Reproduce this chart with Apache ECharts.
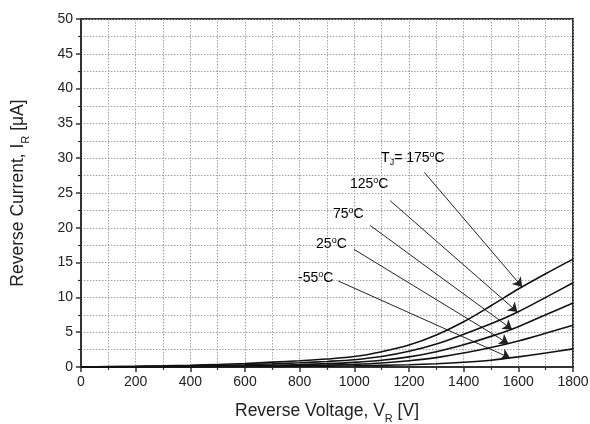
<!DOCTYPE html>
<html><head><meta charset="utf-8">
<script src="https://cdn.jsdelivr.net/npm/echarts@6/dist/echarts.min.js"></script>
<style>html,body{margin:0;padding:0;background:#fff}#c{width:590px;height:424px}</style>
</head><body><div id="c"></div>
<script>
// ---- data ----
const voltage    = [0, 100, 200, 300, 400, 500, 600, 700, 800, 900, 1000, 1100, 1200, 1300, 1400, 1500, 1600, 1700, 1800];
const current175 = [0.02, 0.06, 0.1, 0.16, 0.25, 0.37, 0.5, 0.7, 0.9, 1.15, 1.5, 2.2, 3.15, 4.6, 6.5, 8.8, 11.2, 13.4, 15.5];
const current125 = [0.01, 0.04, 0.07, 0.11, 0.16, 0.24, 0.33, 0.45, 0.6, 0.8, 1.05, 1.5, 2.25, 3.3, 4.7, 6.2, 7.95, 10.0, 12.1];
const current75  = [0, 0.02, 0.04, 0.06, 0.09, 0.13, 0.18, 0.25, 0.35, 0.48, 0.67, 0.96, 1.45, 2.2, 3.2, 4.4, 5.8, 7.5, 9.2];
const current25  = [0, 0.01, 0.02, 0.03, 0.05, 0.07, 0.1, 0.14, 0.19, 0.27, 0.38, 0.57, 0.9, 1.35, 2.0, 2.8, 3.75, 4.85, 6.0];
const currentM55 = [0, 0.005, 0.01, 0.015, 0.02, 0.03, 0.045, 0.06, 0.08, 0.12, 0.17, 0.24, 0.33, 0.47, 0.68, 0.98, 1.45, 2.0, 2.6];
const xTicks = [0, 200, 400, 600, 800, 1000, 1200, 1400, 1600, 1800];
const yTicks = [0, 5, 10, 15, 20, 25, 30, 35, 40, 45, 50];
const tempLabels = ['175', '125', '75', '25', '-55'];

// annotation anchors in data units: [labelV, labelI, arrowStartV, arrowStartI, arrowTipV, arrowTipI]
const annot = [
  [1098, 30.0, 1256, 27.97, 1614, 11.5],
  [984, 26.3, 1131, 23.9, 1597, 7.9],
  [922, 22.0, 1057, 20.36, 1577, 5.4],
  [860, 17.7, 999, 16.9, 1564, 3.35],
  [794, 12.8, 941, 12.36, 1570, 1.3]
];

const FONT = '"Liberation Sans", Arial, sans-serif';
const INK = '#222';
const seriesData = [current175, current125, current75, current25, currentM55];

const chart = echarts.init(document.getElementById('c'), null, {renderer: 'canvas'});

const series = seriesData.map((arr, k) => ({
  type: 'line',
  data: voltage.map((v, i) => [v, arr[i]]),
  showSymbol: false,
  smooth: 0.3,
  lineStyle: {color: '#111', width: 1.6},
  z: 5,
  silent: true,
  markLine: {
    silent: true,
    symbol: ['none', 'arrow'],
    symbolSize: 9,
    itemStyle: {color: '#222'},
    lineStyle: {color: '#222', width: 1, type: 'solid'},
    label: {show: false},
    emphasis: {disabled: true},
    data: [[{coord: [annot[k][2], annot[k][3]]}, {coord: [annot[k][4], annot[k][5]]}]]
  }
}));

const dotted = {show: true, lineStyle: {color: '#a0a0a0', type: [1.5, 1.5], width: 1}};
const nameRich = {
  n: {fontSize: 17.5, fontFamily: FONT, color: INK, lineHeight: 22},
  sub: {fontSize: 11, fontFamily: FONT, color: INK, lineHeight: 22, verticalAlign: 'bottom', padding: [0, 0, -2, 0]}
};

chart.setOption({
  animation: false,
  backgroundColor: '#fff',
  grid: {left: 81, right: 17, top: 19, bottom: 57, outerBoundsMode: 'none', containLabel: false,
    show: true, borderColor: '#333', borderWidth: 2, backgroundColor: 'transparent'},
  xAxis: {
    type: 'value', min: 0, max: 1800, interval: 200,
    axisLine: {show: true, lineStyle: {color: '#333', width: 2}},
    axisTick: {show: true, length: 5, lineStyle: {color: '#333', width: 1.5}},
    minorTick: {show: true, splitNumber: 2, length: 3, lineStyle: {color: '#333', width: 1.2}},
    splitLine: dotted,
    minorSplitLine: dotted,
    axisLabel: {color: INK, fontSize: 14, fontFamily: FONT, margin: 8,
      formatter: v => xTicks.includes(v) ? String(v) : ''},
    name: '{n|Reverse Voltage, V}{sub|R}{n| [V]}',
    nameLocation: 'middle', nameGap: 33,
    nameTextStyle: {rich: nameRich}
  },
  yAxis: {
    type: 'value', min: 0, max: 50, interval: 5,
    axisLine: {show: true, lineStyle: {color: '#333', width: 2}},
    axisTick: {show: true, length: 5, lineStyle: {color: '#333', width: 1.5}},
    minorTick: {show: true, splitNumber: 2, length: 3, lineStyle: {color: '#333', width: 1.2}},
    splitLine: dotted,
    minorSplitLine: dotted,
    axisLabel: {color: INK, fontSize: 14, fontFamily: FONT, margin: 8,
      formatter: v => yTicks.includes(v) ? String(v) : ''},
    name: '{n|Reverse Current, I}{sub|R}{n| [μA]}',
    nameLocation: 'middle', nameGap: 52, nameRotate: 90,
    nameTextStyle: {rich: nameRich}
  },
  series: series
});

// temperature labels, positioned through the axes' scales
const rich = {
  n: {fontSize: 14, fontFamily: FONT, color: INK, lineHeight: 16},
  sup: {fontSize: 9, fontFamily: FONT, color: INK, lineHeight: 16, verticalAlign: 'top', padding: [0, 0, 4, 0]},
  sub: {fontSize: 9, fontFamily: FONT, color: INK, lineHeight: 16, verticalAlign: 'bottom', padding: [0, 0, -1, 0]}
};
const graphics = tempLabels.map((t, k) => {
  const p = chart.convertToPixel({gridIndex: 0}, [annot[k][0], annot[k][1]]);
  const txt = k === 0 ? '{n|T}{sub|J}{n|= ' + t + '}{sup|o}{n|C}' : '{n|' + t + '}{sup|o}{n|C}';
  return {type: 'text', x: p[0], y: p[1], z: 10, silent: true,
    style: {text: txt, rich: rich, align: 'left', verticalAlign: 'middle'}};
});
chart.setOption({graphic: graphics});
</script>
</body></html>
